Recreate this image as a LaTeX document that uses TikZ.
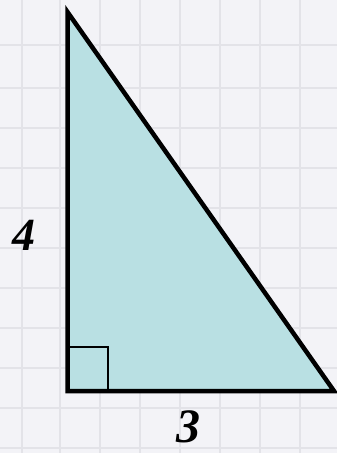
\documentclass[tikz,border=0pt]{standalone}
\usepackage{fontspec}
\setmainfont{Liberation Serif}
\definecolor{paper}{HTML}{F3F3F7}
\definecolor{gridc}{HTML}{E3E3E8}
\definecolor{tri}{HTML}{B9E0E3}
\begin{document}
\begin{tikzpicture}[x=1pt,y=-1pt,
  edge/.style={draw=black,line width=4.5pt,line join=miter},
  rightmark/.style={draw=black,line width=1.3pt},
  lbl/.style={font=\bfseries\itshape\fontsize{46}{46}\selectfont,inner sep=0pt}]
\fill[paper] (0,0) rectangle (337,453);
\useasboundingbox (0,0) rectangle (337,453);
\foreach \x in {22,60,100,140,180,220,260,300} \draw[gridc,line width=2.5pt] (\x,0) -- (\x,453);
\foreach \y in {45,88,128,168,208,248,288,328,368,408,448} \draw[gridc,line width=2.5pt] (0,\y) -- (337,\y);
\coordinate (A) at (67.5,12);
\coordinate (B) at (67.5,391);
\coordinate (C) at (334,391);
\fill[tri] (A) -- (B) -- (C) -- cycle;
\draw[rightmark] (67.5,347) -- (108,347) -- (108,391);
\draw[edge] (A) -- (B) -- (C) -- cycle;
\node[lbl] (four) at (24,235) {4};
\node[lbl,font=\bfseries\itshape\fontsize{48}{48}\selectfont] (three) at (188,427) {3};
\end{tikzpicture}
\end{document}
